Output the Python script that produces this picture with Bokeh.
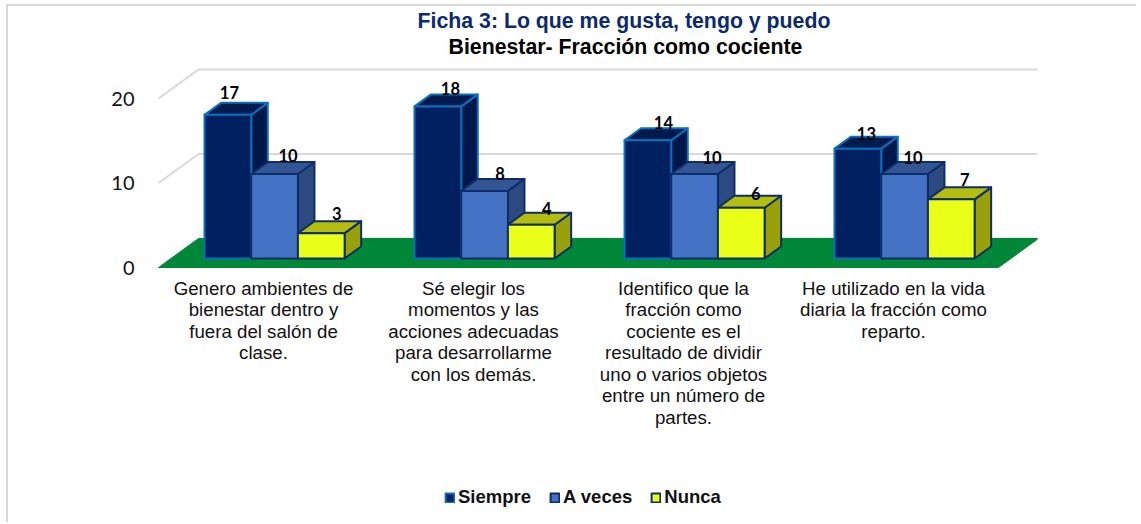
from bokeh.plotting import figure
from bokeh.embed import file_html
from bokeh.resources import INLINE
from bokeh.models import Legend, LegendItem, Title, FixedTicker
from bokeh.core.properties import value

categories = [
    "Genero ambientes de\nbienestar dentro y\nfuera del salón de\nclase.",
    "Sé elegir los\nmomentos y las\nacciones adecuadas\npara desarrollarme\ncon los demás.",
    "Identifico que la\nfracción como\ncociente es el\nresultado de dividir\nuno o varios objetos\nentre un número de\npartes.",
    "He utilizado en la vida\ndiaria la fracción como\nreparto.",
]
siempre = [17, 18, 14, 13]
a_veces = [10, 8, 10, 10]
nunca = [3, 4, 6, 7]
series_names = ["Siempre", "A veces", "Nunca"]
y_ticks = [0, 10, 20]

# Layout constants (pixels of the page)
OX, OY = 6, 4          # figure's top-left on the page
BW = 2                 # border width
W, H = 1130, 518
LEFT, RIGHT, TOP, BOTTOM, LOW = 157, 1037, 58, 267, 515
PX_X, PX_Y = 210.0, 8.45   # pixels per category / per value unit
DX, DY = 40 / PX_X, 29 / PX_Y   # whole-floor depth, in data units
D0, D1 = 9 / 29, 21 / 29        # bar depth span
BAR_W = 46.7 / PX_X
BAR_X0 = (204 - 158 - 12.4) / PX_X

x_end = (RIGHT - LEFT) / PX_X

p = figure(width=W, height=H, output_backend="svg", toolbar_location=None,
           x_range=(-1 / PX_X, x_end - 1 / PX_X),
           y_range=(-(LOW - BOTTOM) / PX_Y, (BOTTOM - TOP) / PX_Y),
           min_border_left=LEFT - OX - BW, min_border_right=W - (RIGHT - OX - BW),
           min_border_top=TOP - OY - BW, min_border_bottom=H - (LOW - OY - BW),
           outline_line_color=None, background_fill_color="white", border_fill_color="white")
p.margin = (OY, 0, 0, OX)
p.styles = {"border-left": f"{BW}px solid #D9D9D9", "border-top": f"{BW}px solid #D9D9D9"}
p.grid.visible = False


def proj(x, v, d):
    return x + d * DX, v + d * DY


# walls / gridlines
for t in y_ticks[1:]:
    a = proj(0, t, 0)
    b = proj(0, t, 1)
    c = proj(x_end, t, 1)
    p.line([a[0], b[0], c[0]], [a[1], b[1], c[1]], line_color="#D9D9D9", line_width=2)
a = proj(0, 0, 1)
c = proj(x_end, 0, 1)
p.line([a[0], c[0]], [a[1], c[1]], line_color="#D9D9D9", line_width=2)

# floor
fx = [proj(0, 0, 0)[0], proj(0, 0, 1)[0], proj(4, 0, 1)[0], proj(4, 0, 0)[0]]
fy = [proj(0, 0, 0)[1], proj(0, 0, 1)[1], proj(4, 0, 1)[1], proj(4, 0, 0)[1]]
p.patch(fx, fy, fill_color="#008737", line_color="#008737", line_width=1)

styles = [
    dict(front="#002060", top="#001A4D", side="#00174A", line="#0B6FBE"),
    dict(front="#4472C4", top="#335593", side="#2C4A80", line="#0F2D69"),
    dict(front="#EAFF17", top="#B5BE0D", side="#98A00A", line="#0F2D69"),
]
series = [siempre, a_veces, nunca]
legend_items = []
# value-label nudges, in pixels, from the centre of each bar's rear top edge
offx = [[-15, -3, -1], [-4, -1, -1], [-1, 1, -2], [-8, -8, -3]]
offy = [[10.4, 6.5, 7.6], [5.9, 5.4, 4.2], [5.7, 4.5, 2.3], [3.2, 4.5, 7.9]]

for i in range(len(categories)):
    for j, vals in enumerate(series):
        v = vals[i]
        st = styles[j]
        x0 = i + BAR_X0 + j * BAR_W
        x1 = x0 + BAR_W
        kw = dict(line_color=st["line"], line_width=2, line_join="round")
        pts = [proj(x1, 0, D0), proj(x1, 0, D1), proj(x1, v, D1), proj(x1, v, D0)]
        p.patch([q[0] for q in pts], [q[1] for q in pts], fill_color=st["side"], **kw)
        pts = [proj(x0, v, D0), proj(x0, v, D1), proj(x1, v, D1), proj(x1, v, D0)]
        p.patch([q[0] for q in pts], [q[1] for q in pts], fill_color=st["top"], **kw)
        pts = [proj(x0, 0, D0), proj(x0, v, D0), proj(x1, v, D0), proj(x1, 0, D0)]
        r = p.patch([q[0] for q in pts], [q[1] for q in pts], fill_color=st["front"], **kw)
        if i == 0:
            legend_items.append(LegendItem(label=series_names[j], renderers=[r]))

for i in range(len(categories)):
    for j, vals in enumerate(series):
        v = vals[i]
        x0 = i + BAR_X0 + j * BAR_W
        cx, cy = proj(x0 + BAR_W / 2, v, D1)
        p.text([cx], [cy], text=[str(v)], text_font=value("Lato"), text_font_style="bold",
               text_font_size="16.5px", text_color="black", text_align="center",
               text_baseline="middle", x_offset=offx[i][j], y_offset=-offy[i][j])

# axes
ya = p.yaxis[0]
ya.ticker = FixedTicker(ticks=y_ticks)
ya.axis_line_color = None
ya.major_tick_line_color = None
ya.minor_tick_line_color = None
ya.major_label_standoff = 17
ya.major_label_text_font = "Lato"
ya.major_label_text_font_size = "20px"
ya.major_label_text_color = "#111111"

xa = p.xaxis[0]
xa.fixed_location = 0
xa.ticker = FixedTicker(ticks=[0.5, 1.5, 2.5, 3.5])
xa.major_label_overrides = {0.5: categories[0], 1.5: categories[1], 2.5: categories[2], 3.5: categories[3]}
xa.axis_line_color = None
xa.major_tick_line_color = None
xa.minor_tick_line_color = None
xa.major_label_standoff = 4
xa.major_label_text_font = "Liberation Sans"
xa.major_label_text_font_size = "18.7px"
xa.major_label_text_color = "#111111"
xa.major_label_text_line_height = 1.025

# titles
t2 = Title(text="Bienestar- Fracción como cociente", align="left", offset=448 - LEFT, text_font="Liberation Sans",
           text_font_size="21.3px", text_font_style="bold", text_color="black", standoff=0)
t1 = Title(text="Ficha 3: Lo que me gusta, tengo y puedo", align="left", offset=417 - LEFT, text_font="Liberation Sans",
           text_font_size="21.3px", text_font_style="bold", text_color="#0B2A6F", standoff=0)
p.add_layout(t2, "above")
p.add_layout(t1, "above")
p.title.visible = False

# legend
leg = Legend(items=legend_items, orientation="horizontal", location=(444 - LEFT, 7),
             label_text_font="Liberation Sans", label_text_font_style="bold", label_text_font_size="18.5px",
             label_text_color="#111111", glyph_width=11, glyph_height=11, label_standoff=3, spacing=18,
             padding=0, margin=0, border_line_color=None, background_fill_alpha=0)
p.add_layout(leg, "center")

open("out.html", "w").write(file_html(p, INLINE))
